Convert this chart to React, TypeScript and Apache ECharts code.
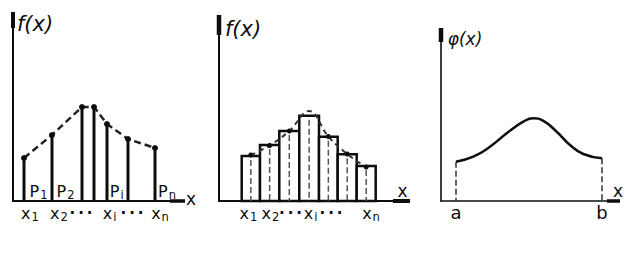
import { useEffect, useRef } from "react";
import * as echarts from "echarts";

// ---- Panel 1: discrete distribution, stems f(x_i) = p_i ----
const p1Pos = [11, 39, 69, 81, 94, 115, 142];
const p1Prob = [43, 66, 94, 94, 77, 62, 53];
const p1TickPos = [17, 46, 68, 96.5, 119, 147];
const p1TickText = ["x\u2081", "x\u2082", "\u00b7 \u00b7 \u00b7", "x\u1d62", "\u00b7 \u00b7 \u00b7", "x\u2099"];
const p1PPos = [25.5, 52.5, 103.7, 154];
const p1PText = ["P\u2081", "P\u2082", "P\u1d62", "P\u2099"];

// ---- Panel 2: histogram with dashed curve ----
const p2Edges = [22.7, 41, 60.3, 80.3, 100, 118.7, 137.7, 156.7];
const p2Freq = [45, 56, 70, 85.3, 64.3, 46.7, 35];
const p2Curve = [46, 55.5, 70, 90, 64.5, 47, 34];
const p2TickPos = [29.5, 51.5, 71.5, 91.5, 112, 152];
const p2TickText = ["x\u2081", "x\u2082", "\u00b7 \u00b7 \u00b7", "x\u1d62", "\u00b7 \u00b7 \u00b7", "x\u2099"];

// ---- Panel 3: continuous density phi(x) on [a, b] ----
const p3X = [15, 32.3, 49, 65.7, 82.3, 92.3, 102, 115.7, 129, 142.3, 161];
const p3Y = [39.3, 44.3, 54.3, 67.7, 79.3, 82.7, 80.3, 69.3, 56, 47, 42.7];
const p3BoundText = ["a", "b"];

const INK = "#0d0d0d";
const FONT = "DejaVu Sans";
const SUB: Record<string, string> = { "\u2081": "1", "\u2082": "2", "\u1d62": "i", "\u2099": "n" };

function axisPair(max: number, arrow: number[], width = 2) {
  return {
    type: "value",
    min: 0,
    max,
    axisLine: {
      show: true,
      onZero: false,
      symbol: ["none", "rect"],
      symbolSize: arrow,
      lineStyle: { color: INK, width },
    },
    axisTick: { show: false },
    axisLabel: { show: false },
    splitLine: { show: false },
  };
}

function labelSeries(idx: number, xs: number[], texts: string[], dy: number, size = 16) {
  return {
    type: "scatter",
    xAxisIndex: idx,
    yAxisIndex: idx,
    symbolSize: 0,
    clip: false,
    silent: true,
    itemStyle: { opacity: 1, color: INK },
    data: xs.map((x, i) => [x, 0, texts[i]]),
    label: {
      show: true,
      position: "inside",
      offset: [0, dy],
      color: INK,
      formatter: (p: any) => {
        const t: string = p.data[2];
        if (t.indexOf("\u00b7") >= 0) return `{d|${t.replace(/ /g, "\u2009")}}`;
        const s = SUB[t.slice(-1)];
        return s ? `{b|${t.slice(0, -1)}}{s|${s}}` : `{b|${t}}`;
      },
      rich: {
        b: { fontSize: size, fontFamily: FONT, color: INK, lineHeight: 20, verticalAlign: "middle" },
        s: { fontSize: size * 0.72, fontFamily: FONT, color: INK, lineHeight: 12, verticalAlign: "bottom", padding: [0, 0, 0, 1] },
        d: { fontSize: 15, fontFamily: FONT, fontWeight: "bold", color: INK, lineHeight: 20, verticalAlign: "middle" },
      },
    },
    z: 10,
  };
}

const dropLine = (params: any, api: any) => {
  const x = api.value(0);
  const y = api.value(1);
  const top = api.coord([x, y]);
  const bot = api.coord([x, 0]);
  return {
    type: "line",
    shape: { x1: top[0], y1: top[1], x2: bot[0], y2: bot[1] },
    style: { stroke: "#333", lineWidth: 1.5, lineDash: [6, 3] },
  };
};

const p2Centers = p2Edges.slice(0, -1).map((e, i) => (e + p2Edges[i + 1]) / 2);

const txt = (x: number, y: number, text: string, font: string) => ({
  type: "text",
  x,
  y,
  style: { text, fill: INK, font, textAlign: "center", textVerticalAlign: "middle" },
});

const option: any = {
  animation: false,
  backgroundColor: "#fff",
  grid: [
    { left: 13, top: 20, right: 641 - 177.5, bottom: 54 },
    { left: 219, top: 25, right: 641 - 401.5, bottom: 54 },
    { left: 441, top: 35, right: 641 - 613.5, bottom: 54 },
  ],
  xAxis: [
    { ...axisPair(164.5, [3.5, 15]), gridIndex: 0 },
    { ...axisPair(182.5, [4, 17]), gridIndex: 1 },
    { ...axisPair(172.5, [3.5, 13], 1.6), gridIndex: 2 },
  ],
  yAxis: [
    { ...axisPair(181, [4, 16]), gridIndex: 0 },
    { ...axisPair(176, [4.5, 20]), gridIndex: 1 },
    { ...axisPair(166, [4.5, 14], 1.6), gridIndex: 2 },
  ],
  graphic: [
    txt(35, 24, "f(x)", `italic 21px "${FONT}"`),
    txt(243, 29, "f(x)", `italic 21px "${FONT}"`),
    txt(465, 39, "\u03c6(x)", `italic 17px "${FONT}"`),
    txt(191, 199, "x", `17px "${FONT}"`),
    txt(402.5, 191, "x", `17px "${FONT}"`),
    txt(618, 191, "x", `17px "${FONT}"`),
  ],
  series: [
    // Panel 1
    {
      type: "bar",
      xAxisIndex: 0,
      yAxisIndex: 0,
      barWidth: 3,
      itemStyle: { color: INK },
      data: p1Pos.map((x, i) => [x, p1Prob[i]]),
      silent: true,
    },
    {
      type: "line",
      xAxisIndex: 0,
      yAxisIndex: 0,
      data: p1Pos.map((x, i) => [x, p1Prob[i]]),
      symbol: "circle",
      symbolSize: 6,
      itemStyle: { color: INK },
      lineStyle: { color: "#222", width: 2.5, type: [7, 4] },
      z: 5,
    },
    labelSeries(0, p1TickPos, p1TickText, 12),
    labelSeries(0, p1PPos, p1PText, -10),
    // Panel 2
    {
      type: "custom",
      xAxisIndex: 1,
      yAxisIndex: 1,
      data: p2Freq.map((h, i) => [p2Edges[i], p2Edges[i + 1], h]),
      encode: { x: [0, 1], y: 2 },
      renderItem: (params: any, api: any) => {
        const l = api.value(0);
        const r = api.value(1);
        const h = api.value(2);
        const tl = api.coord([l, h]);
        const br = api.coord([r, 0]);
        const cx = (tl[0] + br[0]) / 2;
        return {
          type: "group",
          children: [
            {
              type: "rect",
              shape: { x: tl[0], y: tl[1], width: br[0] - tl[0], height: br[1] - tl[1] },
              style: { fill: "#fff", stroke: INK, lineWidth: 2.5 },
            },
            {
              type: "line",
              shape: { x1: cx, y1: tl[1] + 4, x2: cx, y2: br[1] },
              style: { stroke: "#555", lineWidth: 1.5, lineDash: [6, 3] },
            },
          ],
        };
      },
    },
    {
      type: "line",
      xAxisIndex: 1,
      yAxisIndex: 1,
      smooth: 0.4,
      data: p2Centers.map((x, i) => (i === 3 ? { value: [x, p2Curve[i]], symbolSize: 0 } : [x, p2Curve[i]])),
      symbol: "circle",
      symbolSize: 5,
      itemStyle: { color: INK },
      lineStyle: { color: "#333", width: 2, type: [5, 4] },
      z: 5,
    },
    labelSeries(1, p2TickPos, p2TickText, 12),
    // Panel 3
    {
      type: "line",
      xAxisIndex: 2,
      yAxisIndex: 2,
      smooth: 0.5,
      symbol: "none",
      data: p3X.map((x, i) => [x, p3Y[i]]),
      lineStyle: { color: INK, width: 2.5 },
    },
    {
      type: "custom",
      xAxisIndex: 2,
      yAxisIndex: 2,
      data: [
        [p3X[0], p3Y[0]],
        [p3X[p3X.length - 1], p3Y[p3Y.length - 1]],
      ],
      encode: { x: 0, y: 1 },
      renderItem: dropLine,
    },
    labelSeries(2, [p3X[0], p3X[p3X.length - 1]], p3BoundText, 11, 18),
  ],
};

export default function App() {
  const ref = useRef<HTMLDivElement>(null);
  useEffect(() => {
    const chart = echarts.init(ref.current!, null, { renderer: "svg" });
    chart.setOption(option);
    return () => chart.dispose();
  }, []);
  return (
    <div
      ref={ref}
      style={{ position: "fixed", left: 0, top: 0, width: 641, height: 255, background: "#fff" }}
    />
  );
}
